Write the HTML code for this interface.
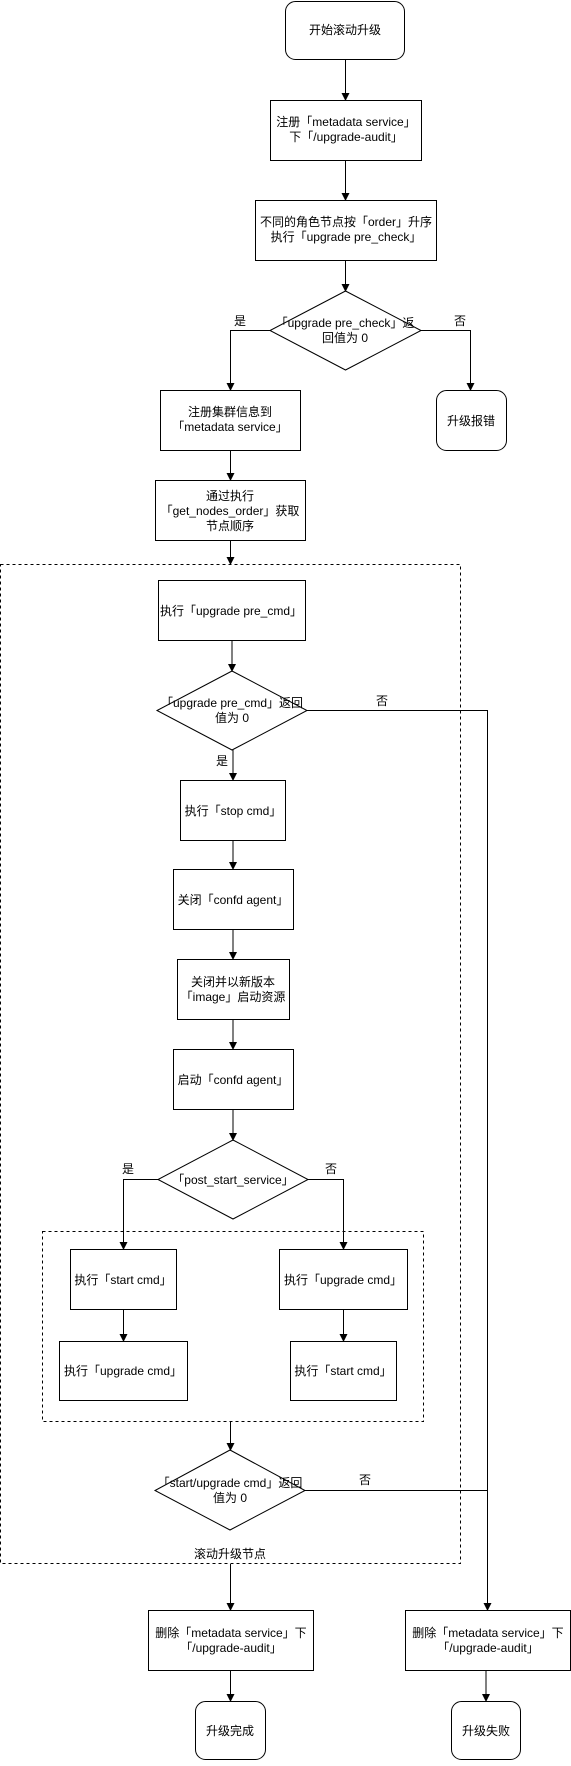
<!DOCTYPE html>
<html><head><meta charset="utf-8"><style>
html,body{margin:0;padding:0;background:#fff;}
svg text{font-family:"Liberation Sans","Noto Sans CJK SC",sans-serif;font-size:12px;fill:#000;}
</style></head><body>
<svg width="571" height="1761" viewBox="0 0 571 1761" xmlns="http://www.w3.org/2000/svg">
<defs><marker id="a" markerWidth="8" markerHeight="8" refX="7" refY="4" orient="auto" markerUnits="userSpaceOnUse"><path d="M0,0 L8,4 L0,8 Z" fill="#000"/></marker></defs>
<g fill="#fff" stroke="#000" stroke-width="1">
<rect x="0.5" y="564.5" width="460" height="999" fill="none" stroke-dasharray="3,3"/>
<rect x="42.5" y="1231.5" width="381" height="190" fill="none" stroke-dasharray="3,3"/>
<rect x="285.5" y="1.5" width="119" height="58" rx="10"/>
<rect x="270.5" y="100.5" width="151" height="60"/>
<rect x="255.5" y="200.5" width="181" height="60"/>
<polygon points="345.5,291 421,330.5 345.5,370 270,330.5"/>
<rect x="160.5" y="390.5" width="140" height="60"/>
<rect x="436.5" y="390.5" width="70" height="60" rx="10"/>
<rect x="155.5" y="480.5" width="150" height="60"/>
<rect x="158.5" y="580.5" width="147" height="60"/>
<polygon points="232,671 307,710.5 232,750 157,710.5"/>
<rect x="180.5" y="780.5" width="105" height="60"/>
<rect x="173.5" y="869.5" width="120" height="60"/>
<rect x="177.5" y="959.5" width="112" height="60"/>
<rect x="173.5" y="1049.5" width="120" height="60"/>
<polygon points="233,1140 308,1179.5 233,1219 158,1179.5"/>
<rect x="70.5" y="1249.5" width="106" height="60"/>
<rect x="59.5" y="1341.5" width="128" height="59"/>
<rect x="279.5" y="1249.5" width="128" height="60"/>
<rect x="290.5" y="1341.5" width="106" height="59"/>
<polygon points="230,1450 305,1490.5 230,1530 155,1490.5"/>
<rect x="148.5" y="1610.5" width="165" height="60"/>
<rect x="405.5" y="1610.5" width="165" height="60"/>
<rect x="195.5" y="1701.5" width="70" height="58" rx="10"/>
<rect x="451.5" y="1701.5" width="69" height="58" rx="10"/>
</g>
<g fill="none" stroke="#000" stroke-width="1" marker-end="url(#a)">
<path d="M345.5,60 V100"/>
<path d="M345.5,161 V200"/>
<path d="M345.5,261 V291"/>
<path d="M270,330.5 H230.5 V390"/>
<path d="M421,330.5 H470.5 V390"/>
<path d="M230.5,451 V480"/>
<path d="M230.5,541 V564"/>
<path d="M232,641 V671"/>
<path d="M233,750 V780"/>
<path d="M233,841 V869"/>
<path d="M233,930 V959"/>
<path d="M233,1020 V1049"/>
<path d="M233,1110 V1140"/>
<path d="M158,1179.5 H123.5 V1249"/>
<path d="M308,1179.5 H343.5 V1249"/>
<path d="M123.5,1310 V1341"/>
<path d="M343.5,1310 V1341"/>
<path d="M230.5,1422 V1450"/>
<path d="M307,710.5 H487.5 V1610"/>
<path d="M230.5,1564 V1610"/>
<path d="M230.5,1671 V1701"/>
<path d="M486,1671 V1701"/>
</g>
<path d="M305,1490.5 H487.5" stroke="#000" fill="none"/>
<g text-anchor="middle">
<text x="345" y="34">开始滚动升级</text>
<text x="346" y="126">注册「metadata service」</text>
<text x="346" y="141">下「/upgrade-audit」</text>
<text x="346" y="226">不同的角色节点按「order」升序</text>
<text x="346" y="241">执行「upgrade pre_check」</text>
<text x="345" y="327">「upgrade pre_check」返</text>
<text x="345" y="342">回值为 0</text>
<text x="240" y="325">是</text>
<text x="460" y="325">否</text>
<text x="230" y="416">注册集群信息到</text>
<text x="230" y="431">「metadata service」</text>
<text x="471" y="425">升级报错</text>
<text x="230" y="500">通过执行</text>
<text x="230" y="515">「get_nodes_order」获取</text>
<text x="230" y="530">节点顺序</text>
<text x="231" y="615">执行「upgrade pre_cmd」</text>
<text x="232" y="707">「upgrade pre_cmd」返回</text>
<text x="232" y="722">值为 0</text>
<text x="382" y="705">否</text>
<text x="222" y="765">是</text>
<text x="233" y="815">执行「stop cmd」</text>
<text x="233" y="904">关闭「confd agent」</text>
<text x="233" y="986">关闭并以新版本</text>
<text x="233" y="1001">「image」启动资源</text>
<text x="233" y="1084">启动「confd agent」</text>
<text x="233" y="1184">「post_start_service」</text>
<text x="128" y="1173">是</text>
<text x="331" y="1173">否</text>
<text x="123" y="1284">执行「start cmd」</text>
<text x="123" y="1375">执行「upgrade cmd」</text>
<text x="343" y="1284">执行「upgrade cmd」</text>
<text x="343" y="1375">执行「start cmd」</text>
<text x="230" y="1487">「start/upgrade cmd」返回</text>
<text x="230" y="1502">值为 0</text>
<text x="365" y="1484">否</text>
<text x="230" y="1558">滚动升级节点</text>
<text x="231" y="1637">删除「metadata service」下</text>
<text x="231" y="1652">「/upgrade-audit」</text>
<text x="488" y="1637">删除「metadata service」下</text>
<text x="488" y="1652">「/upgrade-audit」</text>
<text x="230" y="1735">升级完成</text>
<text x="486" y="1735">升级失败</text>
</g>
</svg>
</body></html>
